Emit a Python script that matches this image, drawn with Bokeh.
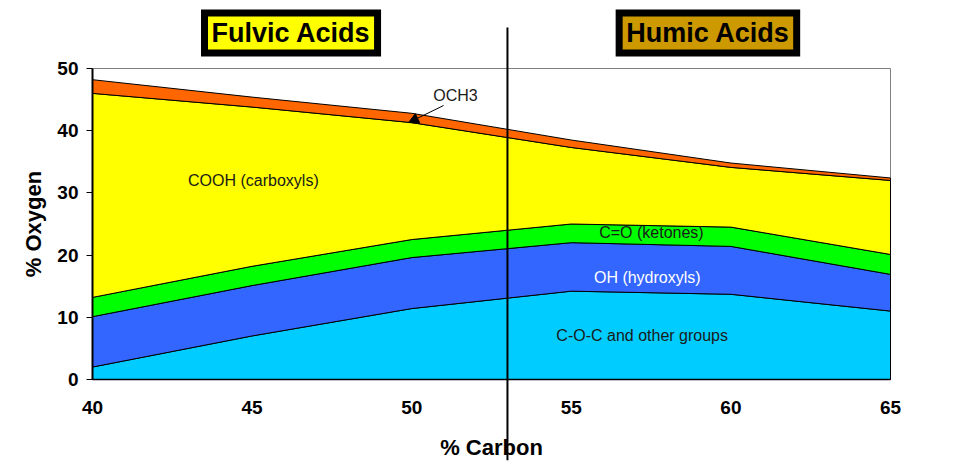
import numpy as np
from bokeh.plotting import figure
from bokeh.models import Label, Arrow, NormalHead, FixedTicker, Range1d
from bokeh.embed import file_html
from bokeh.resources import INLINE

# ---- data (% oxygen contributions at each % carbon) ----
carbon = [40, 45, 50, 55, 60, 65]
coc = [2.0, 7.0, 11.4, 14.2, 13.7, 11.0]       # C-O-C and other groups
oh = [8.1, 8.1, 8.2, 7.8, 7.7, 5.9]            # OH (hydroxyls)
ketone = [3.1, 3.1, 2.9, 3.0, 3.1, 3.2]        # C=O (ketones)
cooh = [32.8, 25.6, 18.8, 12.3, 9.6, 11.9]     # COOH (carboxyls)
och3 = [2.2, 1.6, 1.5, 1.2, 0.7, 0.4]          # OCH3
divider_x = 53
x_ticks = [40, 45, 50, 55, 60, 65]
y_ticks = [0, 10, 20, 30, 40, 50]
X_MIN, X_MAX = 40, 65
Y_MIN, Y_MAX = 0, 50

layers = [coc, oh, ketone, cooh, och3]
colors = ["#00CCFF", "#3366FF", "#00FF00", "#FFFF00", "#FF6600"]

FONT = "Liberation Sans"

# canvas geometry: data area spans px 92..890 horizontally, 68..379 vertically
W, H = 953, 472
L, R, T, B = 92, 890, 68, 379
sx = (R - L) / (X_MAX - X_MIN)
sy = (B - T) / (Y_MAX - Y_MIN)
x_range = Range1d(X_MIN - L / sx, X_MAX + (W - R) / sx)
y_range = Range1d(Y_MIN - (H - B) / sy, Y_MAX + T / sy)

p = figure(width=W, height=H, output_backend="svg", toolbar_location=None,
           x_range=x_range, y_range=y_range,
           min_border=0, min_border_left=0, min_border_right=0,
           min_border_top=0, min_border_bottom=0)
p.background_fill_color = "white"
p.border_fill_color = "white"
p.outline_line_color = None
p.grid.visible = False

# plot-area border (gray)
p.line([X_MIN, X_MAX, X_MAX], [Y_MAX, Y_MAX, Y_MIN], line_color="#808080", line_width=1)

# stacked areas
bottom = np.zeros(len(carbon))
xs, ys = [], []
for vals in layers:
    top = bottom + np.array(vals)
    xs.append(list(carbon) + list(carbon[::-1]))
    ys.append(list(top) + list(bottom[::-1]))
    bottom = top
p.patches(xs, ys, fill_color=colors, line_color="black", line_width=1)

# axes placed inside the (full-canvas) frame
p.xaxis.fixed_location = Y_MIN
p.yaxis.fixed_location = X_MIN
p.xaxis.bounds = (X_MIN, X_MAX)
p.yaxis.bounds = (Y_MIN, Y_MAX)
p.xaxis.ticker = FixedTicker(ticks=x_ticks)
p.yaxis.ticker = FixedTicker(ticks=y_ticks)
p.xaxis.minor_tick_line_color = None
p.yaxis.minor_tick_line_color = None
p.xaxis.major_tick_out = 0
p.xaxis.major_tick_in = 0
p.yaxis.major_tick_out = 6
p.yaxis.major_tick_in = 0
p.yaxis.axis_line_width = 2
p.xaxis.axis_line_width = 1.5
for ax in (p.xaxis, p.yaxis):
    ax.major_label_text_font = FONT
    ax.major_label_text_font_style = "bold"
    ax.major_label_text_font_size = "19px"
    ax.major_label_text_color = "black"
    ax.axis_label_text_font = FONT
    ax.axis_label_text_font_style = "bold"
    ax.axis_label_text_font_size = "22px"
    ax.axis_label_text_color = "black"
    ax.axis_line_color = "black"
    ax.major_tick_line_color = "black"
p.xaxis.axis_label = "% Carbon"
p.yaxis.axis_label = "% Oxygen"
p.xaxis.major_label_standoff = 21
p.xaxis.axis_label_standoff = 18
p.yaxis.major_label_standoff = 8
p.yaxis.axis_label_standoff = 8

# divider between fulvic and humic acids
p.segment(x0=[divider_x], y0=[56.6], x1=[divider_x], y1=[-13.0],
          line_color="black", line_width=2)

# titles
for tx, t, fill in ((46.22, "Fulvic Acids", "#FFFF00"), (59.28, "Humic Acids", "#CC9900")):
    p.add_layout(Label(x=tx, y=55.71, text=t, text_align="center",
                       text_baseline="middle", text_font=FONT, text_font_style="bold",
                       text_font_size="27px", text_color="black",
                       background_fill_color=fill, border_line_color="black",
                       border_line_width=7, border_line_join="miter", padding=(7, 5)))

# layer labels
def lab(x, y, t, c="#1a1a1a"):
    p.add_layout(Label(x=x, y=y, text=t, text_align="center", text_baseline="middle",
                       text_font=FONT, text_font_size="16px", text_color=c))

lab(51.37, 45.66, "OCH3")
lab(45.04, 32.0, "COOH (carboxyls)")
lab(57.51, 23.63, "C=O (ketones)")
lab(57.38, 16.35, "OH (hydroxyls)", "white")
lab(57.22, 7.07, "C-O-C and other groups")

p.add_layout(Arrow(x_start=51.0, y_start=44.05, x_end=49.9, y_end=41.3,
                   line_color="black", line_width=1,
                   end=NormalHead(size=10, fill_color="black", line_color="black")))

open("out.html", "w").write(file_html(p, INLINE))
